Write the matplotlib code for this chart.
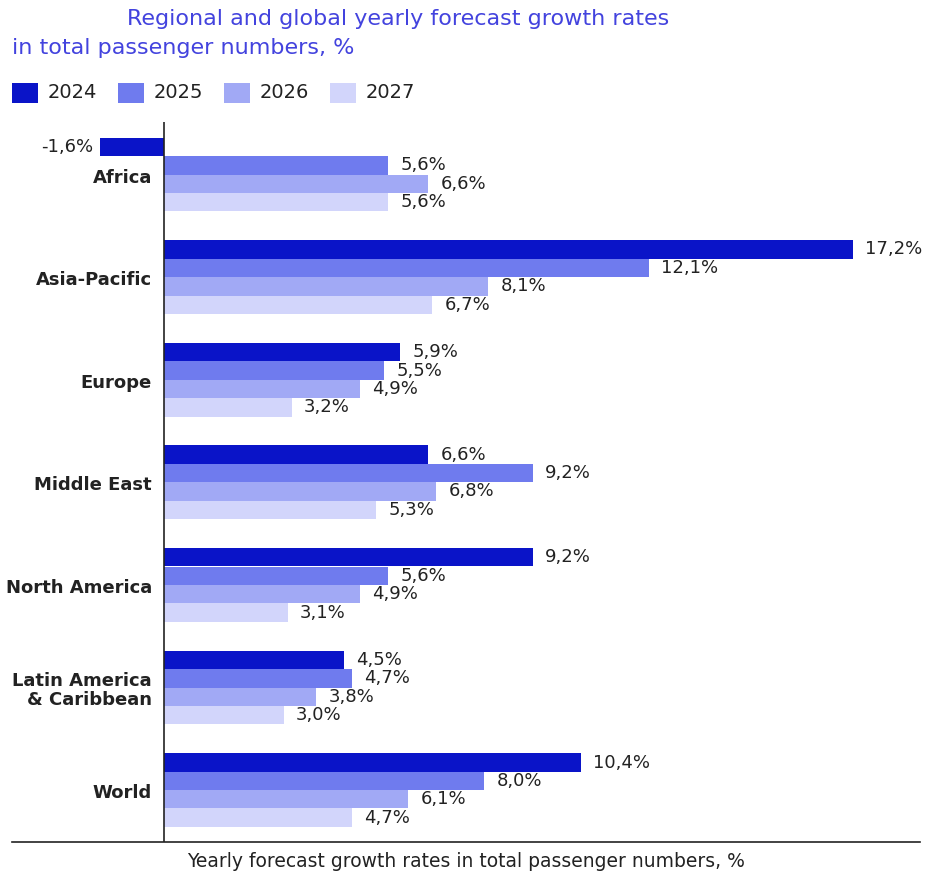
import matplotlib.pyplot as plt
from matplotlib.patches import Rectangle

regions = ["Africa", "Asia-Pacific", "Europe", "Middle East", "North America",
           "Latin America\n& Caribbean", "World"]
years = ["2024", "2025", "2026", "2027"]
growth_2024 = [-1.6, 17.2, 5.9, 6.6, 9.2, 4.5, 10.4]
growth_2025 = [5.6, 12.1, 5.5, 9.2, 5.6, 4.7, 8.0]
growth_2026 = [6.6, 8.1, 4.9, 6.8, 4.9, 3.8, 6.1]
growth_2027 = [5.6, 6.7, 3.2, 5.3, 3.1, 3.0, 4.7]
series = [growth_2024, growth_2025, growth_2026, growth_2027]
colors = ["#0a14c8", "#6f7bee", "#a1a9f5", "#d2d5fb"]

W, H = 929, 873
fig = plt.figure(figsize=(W / 100, H / 100), dpi=100)
plt.rcParams['font.family'] = ['DejaVu Sans']

# axes spans pixel x 12..920, y 122..842
ax = fig.add_axes([12 / W, 1 - 842 / H, (920 - 12) / W, (842 - 122) / H])
px_per_unit = (853 - 164) / 17.2
ax.set_xlim((12 - 164) / px_per_unit, (920 - 164) / px_per_unit)
step = 102.6
ax.set_ylim((842 - 174.5) / step, (122 - 174.5) / step)

bar_h = 18.4 / step
for k, (vals, col) in enumerate(zip(series, colors)):
    off = (k - 1.5) * bar_h
    for i, v in enumerate(vals):
        y = i + off
        ax.barh(y, v, height=bar_h, color=col, linewidth=0)
        label = f"{v:.1f}%".replace(".", ",")
        if v >= 0:
            ax.text(v + 12 / px_per_unit, y, label, va="center", ha="left",
                    fontsize=13, color="#222222")
        else:
            ax.text(v - 7 / px_per_unit, y, label, va="center", ha="right",
                    fontsize=13, color="#222222")

ax.axvline(0, color="#222222", linewidth=1.2)
for s in ["top", "right", "left"]:
    ax.spines[s].set_visible(False)
ax.spines["bottom"].set_color("#222222")
ax.spines["bottom"].set_linewidth(1.2)
ax.set_xticks([])
ax.set_yticks([])

for i, r in enumerate(regions):
    ax.text(-12 / px_per_unit, i + 0.03, r, ha="right", va="center",
            fontsize=13, fontweight="bold", color="#222222", linespacing=1.05)

ax.set_xlabel("Yearly forecast growth rates in total passenger numbers, %",
              fontsize=13.5, color="#222222", labelpad=7)

title_color = "#4343de"
fig.text(127 / W, 1 - 19 / H, "Regional and global yearly forecast growth rates",
         ha="left", va="center", fontsize=16, color=title_color)
fig.text(12 / W, 1 - 48 / H, "in total passenger numbers, %",
         ha="left", va="center", fontsize=16, color=title_color)

# legend row
lx = [12, 118, 224, 330]
for x0, col, yr in zip(lx, colors, years):
    fig.patches.append(Rectangle((x0 / W, 1 - 103 / H), 26 / W, 20 / H,
                                 transform=fig.transFigure, color=col, linewidth=0))
    fig.text((x0 + 36) / W, 1 - 93 / H, yr, ha="left", va="center",
             fontsize=14, color="#222222")

fig.savefig("out.png", dpi=100, facecolor="white")
